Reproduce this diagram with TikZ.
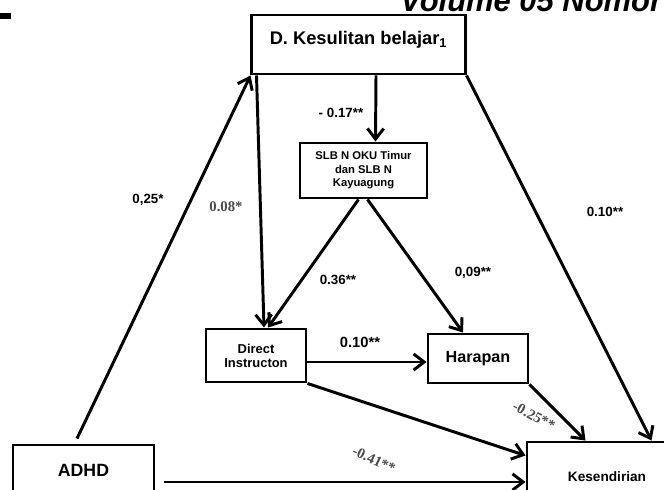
\documentclass[tikz,border=0pt]{standalone}
\usepackage{fontspec}
\setmainfont{Liberation Sans}
\newfontfamily\timesfont{Liberation Serif}
\usepackage{tikz}
\usetikzlibrary{arrows.meta, positioning, calc}
\definecolor{coefgray}{RGB}{75, 75, 75}

\begin{document}
\begin{tikzpicture}[x=0.025cm, y=-0.025cm,
	box/.style={draw, line width=2.1pt, align=center, inner sep=0pt, font=\bfseries},
	arr/.style={line width=2.1pt, -{Straight Barb[length=7.5pt,width=11.5pt]}},
	coef/.style={font=\bfseries\fontsize{9.5}{11}\selectfont},
	coefser/.style={font=\timesfont\bfseries\fontsize{10.5}{12}\selectfont, text=coefgray}]
	\useasboundingbox (0,0) rectangle (664,490);
	\clip (0,0) rectangle (664,490);
	\fill (0,13) rectangle (11,19);
	\node[anchor=base west, inner sep=0pt, font=\bfseries\itshape\fontsize{22}{24}\selectfont] (vol) at (400,12) {Volume 05 Nomor};
	% boxes
	\node[box, minimum width=5.325cm, minimum height=1.475cm, text height=9.5pt, text depth=8.8pt, font=\bfseries\fontsize{13}{15}\selectfont] (dk) at (358.5,44.5) {D. Kesulitan belajar\textsubscript{1}};
	\node[box, minimum width=3.175cm, minimum height=1.375cm, font=\bfseries\fontsize{8}{9.6}\selectfont] (slb) at (363.5,170.5) {SLB N OKU Timur\\dan SLB N\\Kayuagung};
	\node[box, minimum width=2.5cm, minimum height=1.325cm, font=\bfseries\fontsize{9.2}{10}\selectfont] (di) at (256,355.5) {Direct\\Instructon};
	\node[box, minimum width=2.5cm, minimum height=1.225cm, font=\bfseries\fontsize{11.5}{13}\selectfont] (hp) at (478,358.5) {Harapan};
	\node[box, minimum width=3.525cm, minimum height=1.25cm, font=\bfseries\fontsize{12.6}{14}\selectfont] (adhd) at (83.5,470) {ADHD};
	\node[box, minimum width=4cm, minimum height=1.75cm, font=\bfseries\fontsize{9.7}{11}\selectfont] (ks) at (607,477) {Kesendirian};
	% paths
	\draw[arr] ($(adhd.north)+(-6.5,-5)$) -- (dk.south west);
	\draw[arr] ($(dk.south)+(17.5,0)$) -- ($(slb.north)+(12,0)$);
	\draw[arr] ($(dk.south west)+(6,0)$) -- ($(di.north)+(8,0)$);
	\draw[arr] ($(slb.south)+(-5,0)$) -- ($(di.north)+(12,0)$);
	\draw[arr] ($(slb.south)+(4,0)$) -- ($(hp.north)+(-15,0)$);
	\draw[arr] ($(di.east)+(0,6.5)$) -- ($(hp.west)+(0,3.5)$);
	\draw[arr] (di.south east) -- ($(ks.north west)+(0,15)$);
	\draw[arr] (hp.south east) -- ($(ks.north west)+(60,0)$);
	\draw[arr] (dk.south east) -- ($(ks.north west)+(126,0)$);
	\draw[arr] ($(adhd.east)+(9,12)$) -- ($(ks.west)+(0,5)$);
	% coefficients
	\node[coef] (c017) at (341,113) {- 0.17**};
	\node[coef] (c025) at (148,200) {0,25*};
	\node[coefser] (c008) at (226,207) {0.08*};
	\node[coef] (c036) at (338,280) {0.36**};
	\node[coef] (c009) at (473,273) {0,09**};
	\node[coef] (c010a) at (605,212) {0.10**};
	\node[coef, font=\bfseries\fontsize{10.5}{12}\selectfont] (c010b) at (360,342) {0.10**};
	\node[coefser, rotate=-28] (c025n) at (534,416) {-0.25**};
	\node[coefser, rotate=-25] (c041) at (374,460) {-0.41**};
\end{tikzpicture}
\end{document}
